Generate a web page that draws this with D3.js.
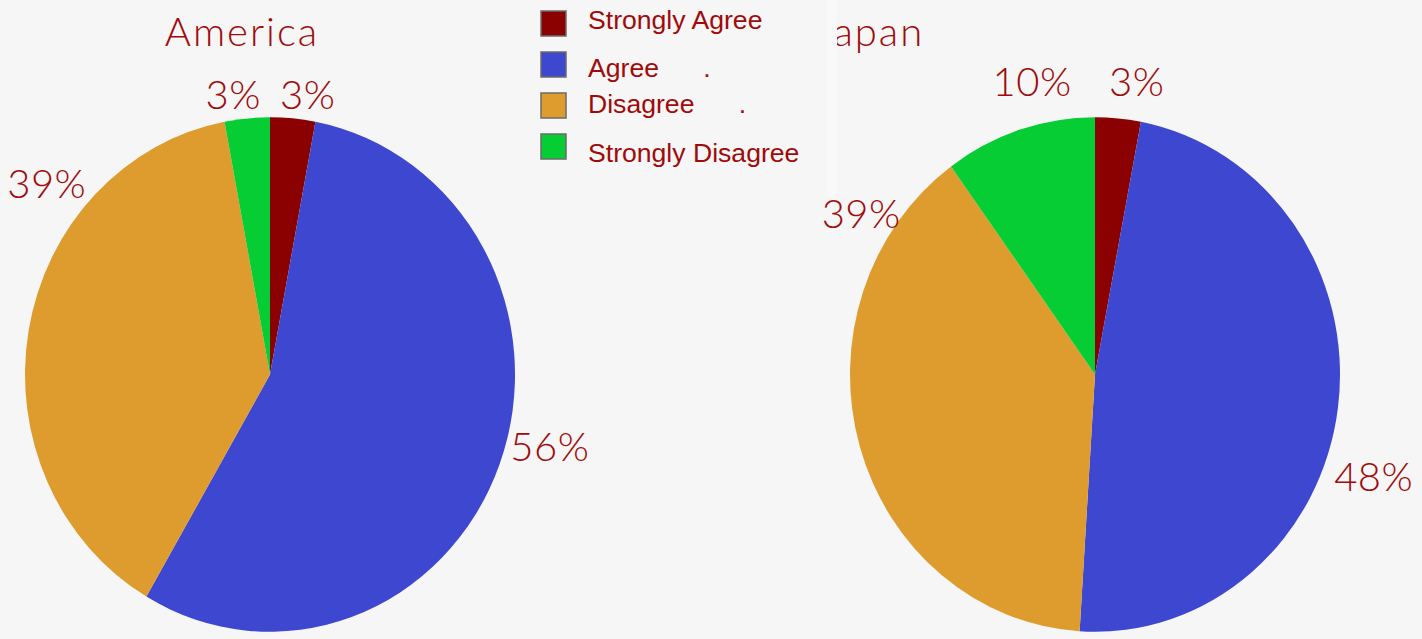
<!DOCTYPE html>
<html>
<head>
<meta charset="utf-8">
<script src="https://cdn.jsdelivr.net/npm/d3@7"></script>
<style>
  html, body { margin: 0; padding: 0; background: #f6f6f6; }
  svg { display: block; }
  .legend-text { white-space: pre; }
</style>
</head>
<body>
<svg id="chart" width="1422" height="639"></svg>
<script>
// Survey answers and their shares (%)
const categories = ["Strongly Agree", "Agree", "Disagree", "Strongly Disagree"];
const legendLabels = ["Strongly Agree", "Agree      .", "Disagree      .", "Strongly Disagree"];
const countries = ["America", "Japan"];
const americaValues = [3, 56, 39, 3];
const japanValues = [3, 48, 39, 10];
const colors = ["#8b0000", "#3d47cf", "#de9c2e", "#05cd33"];

// Where each percentage label sits around its pie (degrees clockwise from top, distance in px)
const americaLabelAngles = [7.7, 104.5, 310.6, 352.5];
const americaLabelRadii = [282, 289, 294, 282];
const japanLabelAngles = [8.1, 110.2, 304.6, 347.9];
const japanLabelRadii = [296, 297, 284, 300];

const textColor = "#a00a0a";
const svg = d3.select("#chart");

const pies = [
  { name: countries[0], values: americaValues, cx: 270, titleX: 242, angles: americaLabelAngles, radii: americaLabelRadii },
  { name: countries[1], values: japanValues, cx: 1095, titleX: 870, angles: japanLabelAngles, radii: japanLabelRadii }
];

const cy = 374.5;
const radius = 245;
const yStretch = 1.05;

const pie = d3.pie().sort(null).value(d => d.value);
const arc = d3.arc().innerRadius(0).outerRadius(radius);

pies.forEach(p => {
  // title
  svg.append("text")
    .attr("x", p.titleX)
    .attr("y", 46)
    .attr("text-anchor", "middle")
    .attr("fill", textColor)
    .style("font-family", "Lato, 'DejaVu Sans', sans-serif")
    .style("font-weight", 300)
    .style("font-size", "40px")
    .style("letter-spacing", "2px")
    .text(p.name);

  const data = categories.map((c, i) => ({ category: c, value: p.values[i], color: colors[i] }));
  const g = svg.append("g").attr("transform", `translate(${p.cx},${cy}) scale(1,${yStretch})`);
  g.selectAll("path")
    .data(pie(data))
    .join("path")
    .attr("d", arc)
    .attr("fill", d => d.data.color);

  // percentage labels
  svg.append("g").selectAll("text")
    .data(data)
    .join("text")
    .attr("x", (d, i) => p.cx + p.radii[i] * Math.sin(p.angles[i] * Math.PI / 180))
    .attr("y", (d, i) => cy - p.radii[i] * Math.cos(p.angles[i] * Math.PI / 180))
    .attr("dy", "0.36em")
    .attr("text-anchor", "middle")
    .attr("fill", textColor)
    .style("font-family", "Lato, 'DejaVu Sans', sans-serif")
    .style("font-weight", 300)
    .style("font-size", "40px")
    .style("letter-spacing", "0.5px")
    .text(d => d.value + "%");
});

// legend panel, drawn over the second title
const legend = svg.append("g");
legend.append("rect")
  .attr("x", 520).attr("y", 0).attr("width", 317).attr("height", 195)
  .attr("fill", "#f6f6f6");
legend.append("rect")
  .attr("x", 827).attr("y", 0).attr("width", 10).attr("height", 195)
  .attr("fill", "#f9f9f9");

const swatchTops = [11, 52, 93, 134];
const baselines = [29, 77, 113, 162];

const rows = legend.selectAll("g.row")
  .data(categories)
  .join("g")
  .attr("class", "row");

rows.append("rect")
  .attr("x", 541)
  .attr("y", (d, i) => swatchTops[i])
  .attr("width", 25)
  .attr("height", 25)
  .attr("fill", (d, i) => colors[i])
  .attr("stroke", "#6b6b6b")
  .attr("stroke-width", 1.5);

rows.append("text")
  .attr("class", "legend-text")
  .attr("x", 588)
  .attr("y", (d, i) => baselines[i])
  .attr("fill", textColor)
  .style("font-family", "'Liberation Sans', Arial, sans-serif")
  .style("font-size", "26.6px")
  .text((d, i) => legendLabels[i]);
</script>
</body>
</html>
